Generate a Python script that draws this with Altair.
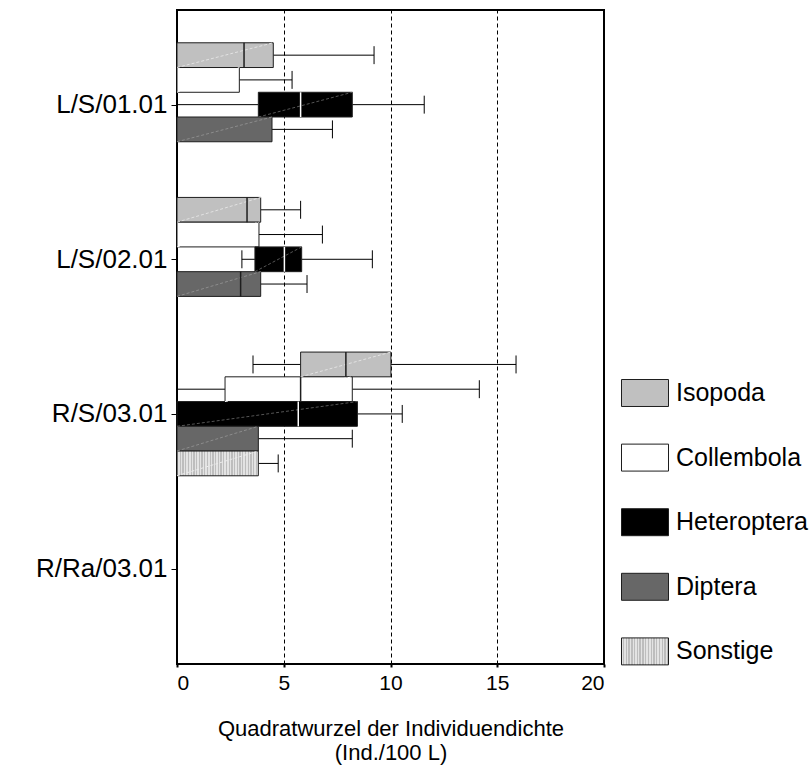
import altair as alt
import pandas as pd

# Sites (rows) and animal groups (boxes within a row)
SITES = ["L/S/01.01", "L/S/02.01", "R/S/03.01", "R/Ra/03.01"]
GROUPS = ["Isopoda", "Collembola", "Heteroptera", "Diptera", "Sonstige"]

# Box-plot statistics, square root of individual density (Ind./100 L)
BOX_SITE = ["L/S/01.01"] * 4 + ["L/S/02.01"] * 4 + ["R/S/03.01"] * 5
BOX_GROUP = (GROUPS[:4]) + (GROUPS[:4]) + GROUPS
MINIMUM = [0.00, 0.00, 0.00, 0.00,
           0.00, 0.00, 3.04, 0.00,
           3.56, 0.00, 0.00, 0.00, 0.00]
Q1 = [0.00, 0.00, 3.81, 0.00,
      0.00, 0.00, 3.65, 0.00,
      5.79, 2.25, 0.00, 0.00, 0.00]
MEDIAN = [3.14, 0.00, 5.79, 0.00,
          3.28, 0.00, 5.03, 2.98,
          7.91, 5.79, 5.68, 0.00, 0.00]
Q3 = [4.51, 2.92, 8.21, 4.45,
      3.92, 3.84, 5.84, 3.92,
      10.02, 8.21, 8.45, 3.81, 3.81]
MAXIMUM = [9.23, 5.39, 11.58, 7.28,
           5.79, 6.81, 9.15, 6.09,
           15.88, 14.16, 10.55, 8.21, 4.74]

FILLS = ["#c0c0c0", "#ffffff", "#000000", "#676767"]
DIAGONALS = ["#e2e2e2", "#ffffff", "#555555", "#8c8c8c", "#ececec"]

# Vertical hatching for "Sonstige" as a striped linear gradient
N_STRIPES = 30
stops = []
for i in range(N_STRIPES):
    a, b, c = i / N_STRIPES, (i + 0.5) / N_STRIPES, (i + 1) / N_STRIPES
    stops += [(a, "#bdbdbd"), (b, "#bdbdbd"), (b, "#e3e3e3"), (c, "#e3e3e3")]
stripes = ("{gradient:'linear',x1:0,y1:0,x2:1,y2:0,stops:["
           + ",".join("{offset:%.4f,color:'%s'}" % s for s in stops) + "]}")

df = pd.DataFrame({
    "Standort": BOX_SITE,
    "Gruppe": BOX_GROUP,
    "min": MINIMUM,
    "q1": Q1,
    "median": MEDIAN,
    "q3": Q3,
    "max": MAXIMUM,
})
df["site_idx"] = [SITES.index(s) for s in df["Standort"]]
df["group_idx"] = [GROUPS.index(g) for g in df["Gruppe"]]

SLOT = 0.16   # height of one box in row units
CAP = 0.058   # half height of whisker caps

FONT = "Liberation Sans"
EDGE = "#1e1e1e"

base = alt.Chart(df).transform_calculate(
    center=f"datum.site_idx + (datum.group_idx - 2) * {SLOT}",
).transform_calculate(
    top=f"datum.center - {SLOT / 2}",
    bottom=f"datum.center + {SLOT / 2}",
    cap_lo=f"datum.center - {CAP}",
    cap_hi=f"datum.center + {CAP}",
)

label_expr = "[" + ",".join(f"'{s}'" for s in SITES) + "][datum.value]"

x_enc = alt.X(
    "q1:Q",
    scale=alt.Scale(domain=[0, 20], nice=False),
    axis=alt.Axis(
        values=[0, 5, 10, 15, 20],
        title=["Quadratwurzel der Individuendichte", "(Ind./100 L)"],
        grid=True, gridColor="#000000", gridDash=[4, 3], gridWidth=1,
        domain=False, tickColor="#000000", tickSize=3, tickWidth=2,
        labelFont=FONT, labelFontSize=21, labelColor="#000000", labelPadding=5,
        titleFont=FONT, titleFontSize=22, titleFontWeight="normal",
        titleColor="#000000", titlePadding=25, titleLineHeight=24,
    ),
)
y_scale = alt.Scale(domain=[-0.612, 3.617], reverse=True, nice=False, zero=False)
y_axis = alt.Axis(
    values=[0, 1, 2, 3], labelExpr=label_expr, title=None, grid=False,
    domain=False, tickColor="#000000", tickSize=6, tickWidth=1,
    labelFont=FONT, labelFontSize=26, labelColor="#000000", labelPadding=4,
)

legend = alt.Legend(
    title=None, orient="none", legendX=444, legendY=359,
    symbolType="M-1,-0.574H1V0.574H-1Z", symbolSize=2209,
    symbolStrokeWidth=1, symbolOpacity=1,
    rowPadding=24.6, labelOffset=7, padding=0,
    labelFont=FONT, labelFontSize=25, labelColor="#000000",
)

lower_whisker = base.transform_filter("datum.min < datum.q1").mark_rule(
    color="#000000", strokeWidth=1
).encode(
    x=x_enc, x2="min:Q",
    y=alt.Y("center:Q", scale=y_scale, axis=y_axis),
)
upper_whisker = base.mark_rule(color="#000000", strokeWidth=1).encode(
    x="q3:Q", x2="max:Q", y=alt.Y("center:Q"),
)
# boxes: fill per group, outline through a stroke scale so the legend swatches get it too
boxes = base.mark_rect(strokeWidth=1).encode(
    x="q1:Q", x2="q3:Q",
    y="top:Q", y2="bottom:Q",
    fill=alt.Fill(
        "Gruppe:N",
        scale=alt.Scale(domain=GROUPS, range=FILLS + [alt.ExprRef(stripes)]),
        legend=legend,
    ),
    stroke=alt.Stroke(
        "Gruppe:N",
        scale=alt.Scale(domain=GROUPS, range=[EDGE] * len(GROUPS)),
        legend=legend,
    ),
)
diagonals = base.mark_rule(strokeWidth=1, strokeDash=[3, 2]).encode(
    x="q1:Q", x2="q3:Q",
    y="bottom:Q", y2="top:Q",
    color=alt.Color("Gruppe:N", scale=alt.Scale(domain=GROUPS, range=DIAGONALS),
                    legend=None),
)
medians = base.transform_filter("datum.median > datum.q1").mark_rule(strokeWidth=1.5).encode(
    x="median:Q",
    y="top:Q", y2="bottom:Q",
    stroke=alt.condition(alt.datum.Gruppe == "Heteroptera",
                         alt.value("#ffffff"), alt.value(EDGE)),
)
max_caps = base.mark_rule(color="#000000", strokeWidth=1).encode(
    x="max:Q", y="cap_lo:Q", y2="cap_hi:Q",
)
min_caps = base.transform_filter("datum.min > 0").mark_rule(
    color="#000000", strokeWidth=1
).encode(
    x="min:Q", y="cap_lo:Q", y2="cap_hi:Q",
)

chart = alt.layer(
    lower_whisker, upper_whisker, boxes, diagonals, medians, max_caps, min_caps
).properties(
    width=427, height=654,
    background="#ffffff",
    autosize=alt.AutoSizeParams(type="none"),
    padding={"left": 177, "top": 10, "right": 206, "bottom": 105},
).configure_view(
    stroke="#000000", strokeWidth=2,
)

chart.save("out.html", embed_options={"renderer": "svg", "actions": False})
